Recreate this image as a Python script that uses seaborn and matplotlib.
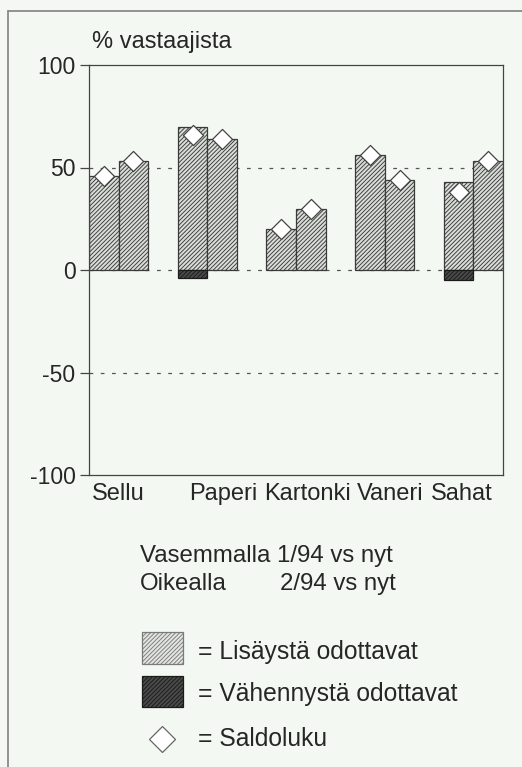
import matplotlib
matplotlib.use("Agg")
import matplotlib.pyplot as plt
import matplotlib.transforms as mtransforms
from matplotlib.patches import Rectangle
from matplotlib.lines import Line2D
import pandas as pd
import seaborn as sns

# Toimialat ja kyselykierrokset
categories = ["Sellu", "Paperi", "Kartonki", "Vaneri", "Sahat"]
periods = ["1/94", "2/94"]

# Lisäystä odottavat (% vastaajista)
lisays_194 = [46, 70, 20, 56, 43]
lisays_294 = [53, 64, 30, 44, 53]
# Vähennystä odottavat (% vastaajista, negatiivisena)
vahennys_194 = [0, -4, 0, 0, -5]
vahennys_294 = [0, 0, 0, 0, 0]
# Saldoluku
saldo_194 = [46, 66, 20, 56, 38]
saldo_294 = [53, 64, 30, 44, 53]

yticks = [-100, -50, 0, 50, 100]

BG = "#f3f9f2"
FILL_LIGHT = "#d9ddd7"
FILL_DARK = "#4a4a4a"
EDGE = "#3a3a3a"
FONT = ["Liberation Sans", "DejaVu Sans"]
HATCH = "////////"

sns.set_theme(style="white")
plt.rcParams["font.family"] = FONT
plt.rcParams["hatch.linewidth"] = 0.65
plt.rcParams["text.color"] = "#262626"

df = pd.DataFrame({
    "toimiala": categories * 2,
    "kausi": [periods[0]] * 5 + [periods[1]] * 5,
    "lisays": lisays_194 + lisays_294,
    "vahennys": vahennys_194 + vahennys_294,
    "saldo": saldo_194 + saldo_294,
})

W, H = 522, 767
fig = plt.figure(figsize=(W / 100, H / 100), dpi=100, facecolor=BG)
ax = fig.add_axes([89 / W, (H - 475) / H, 414 / W, 410 / H])
ax.set_facecolor(BG)

group_width = 2 / 3
bar_kw = dict(order=categories, hue_order=periods, dodge=True, width=group_width,
              gap=0, saturation=1, legend=False, edgecolor=EDGE, linewidth=0.9,
              errorbar=None, ax=ax)

sns.barplot(data=df, x="toimiala", y="lisays", hue="kausi",
            palette={p: FILL_LIGHT for p in periods}, **bar_kw)
n_light = len(ax.patches)
neg = df[df["vahennys"] < 0]
sns.barplot(data=neg, x="toimiala", y="vahennys", hue="kausi",
            palette={p: FILL_DARK for p in periods}, **bar_kw)
for i, p in enumerate(ax.patches):
    p.set_hatch(HATCH)
    p.set_zorder(2)
    if i >= n_light:
        p.set_edgecolor("#1a1a1a")

# Saldoluvut vinoneliöinä kunkin pylvään keskelle
half = group_width / 4
xs, ys = [], []
for k, period in enumerate(periods):
    sub = df[df["kausi"] == period].set_index("toimiala").loc[categories]
    for i, cat in enumerate(categories):
        xs.append(i + (-half if k == 0 else half))
        ys.append(sub.loc[cat, "saldo"])
ax.scatter(xs, ys, marker="D", s=105, facecolor="white", edgecolor="#444444",
           linewidth=0.9, zorder=4)

# Katkoviivat
for y in (50, 0, -50):
    ax.axhline(y, color="#555555", linewidth=0.9, linestyle=(0, (3, 6)), zorder=1)

ax.set_xlim(-1 / 3, len(categories) - 1 + 1 / 3)
ax.set_ylim(-100, 100)
ax.set_yticks(yticks)
ax.set_yticklabels([str(v) for v in yticks])
ax.set_xticks(range(len(categories)))
ax.set_xticklabels(categories)
ax.set_xlabel("")
ax.set_ylabel("")
ax.tick_params(axis="y", direction="out", length=6.5, width=0.9, color="#444444",
               pad=3.2, labelsize=16.5, labelcolor="#262626", left=True)
ax.tick_params(axis="x", length=0, pad=6, labelsize=17, labelcolor="#262626")
for s in ax.spines.values():
    s.set_color("#444444")
    s.set_linewidth(0.9)

# Toimialanimet hieman siirrettyinä
shifts = [0, 16, 11, 5, -12]
for lab, dx in zip(ax.get_xticklabels(), shifts):
    lab.set_transform(lab.get_transform() +
                      mtransforms.ScaledTranslation(dx / 100, 0, fig.dpi_scale_trans))

def fx(px):
    return px / W

def fy(py):
    return 1 - py / H

fig.text(fx(92), fy(42), "% vastaajista", fontsize=17, va="center", ha="left")

fig.text(fx(140), fy(562), "Vasemmalla 1/94 vs nyt", fontsize=17.3, va="baseline")
fig.text(fx(140), fy(590), "Oikealla", fontsize=17.3, va="baseline")
fig.text(fx(280), fy(590), "2/94 vs nyt", fontsize=17.3, va="baseline")

# Selitteet
fig.add_artist(Rectangle((fx(142), fy(664)), 41 / W, 32 / H, transform=fig.transFigure,
                         facecolor="#e2e5e0", edgecolor="#7a7a7a", hatch=HATCH,
                         linewidth=0.9))
fig.add_artist(Rectangle((fx(142), fy(707)), 41 / W, 31 / H, transform=fig.transFigure,
                         facecolor=FILL_DARK, edgecolor="#1a1a1a", hatch=HATCH,
                         linewidth=0.9))
fig.add_artist(Line2D([fx(162)], [fy(739)], marker="D", markersize=13.5,
                      markerfacecolor="white", markeredgecolor="#666666",
                      markeredgewidth=0.9, transform=fig.transFigure))
fig.text(fx(198), fy(659), "= Lisäystä odottavat", fontsize=17.7, va="baseline")
fig.text(fx(198), fy(701), "= Vähennystä odottavat", fontsize=17.7, va="baseline")
fig.text(fx(198), fy(746), "= Saldoluku", fontsize=17.7, va="baseline")

# Kehys
fig.add_artist(Line2D([fx(8), fx(8)], [fy(11), 0], color="#8a8a8a", linewidth=1.3,
                      transform=fig.transFigure))
fig.add_artist(Line2D([fx(8), 1], [fy(11), fy(11)], color="#8a8a8a", linewidth=1.3,
                      transform=fig.transFigure))

fig.savefig("out.png", dpi=100, facecolor=BG)
